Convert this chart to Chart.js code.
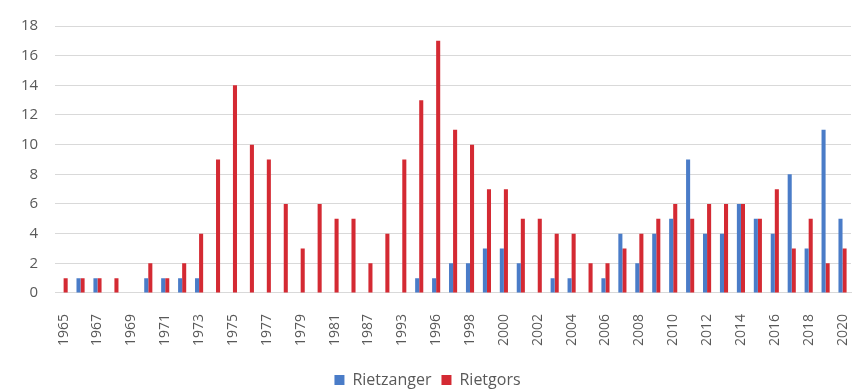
<!DOCTYPE html>
<html>
<head>
<meta charset="utf-8">
<script src="https://cdn.jsdelivr.net/npm/chart.js@4.4.1/dist/chart.umd.min.js"></script>
<style>
  html, body { margin: 0; padding: 0; background: #fff; }
  #wrap { width: 859px; height: 390px; }
</style>
</head>
<body>
<div id="wrap"><canvas id="bar-chart" width="859" height="390"></canvas></div>
<script>
// jaren (niet elk jaar aanwezig)
let years = [
  '1965', '1966', '1967', '1968', '1969', '1970', '1971', '1972', '1973', '1974',
  '1975', '1976', '1977', '1978', '1979', '1980', '1981', '1984', '1987', '1990',
  '1993', '1995', '1996', '1997', '1998', '1999', '2000', '2001', '2002', '2003',
  '2004', '2005', '2006', '2007', '2008', '2009', '2010', '2011', '2012', '2013',
  '2014', '2015', '2016', '2017', '2018', '2019', '2020'
];

let rietzanger = [
  0, 1, 1, 0, 0, 1, 1, 1, 1, 0,
  0, 0, 0, 0, 0, 0, 0, 0, 0, 0,
  0, 1, 1, 2, 2, 3, 3, 2, 0, 1,
  1, 0, 1, 4, 2, 4, 5, 9, 4, 4,
  6, 5, 4, 8, 3, 11, 5
];

let rietgors = [
  1, 1, 1, 1, 0, 2, 1, 2, 4, 9,
  14, 10, 9, 6, 3, 6, 5, 5, 2, 4,
  9, 13, 17, 11, 10, 7, 7, 5, 5, 4,
  4, 2, 2, 3, 4, 5, 6, 5, 6, 6,
  6, 5, 7, 3, 5, 2, 3
];

let yTicks = [0, 2, 4, 6, 8, 10, 12, 14, 16, 18];

let txtColor = '#595959';
let font = 'Open Sans';

new Chart(document.getElementById('bar-chart').getContext('2d'), {
  type: 'bar',
  data: {
    labels: years,
    datasets: [
      {
        label: 'Rietzanger',
        data: rietzanger,
        backgroundColor: '#4a7cc8',
        categoryPercentage: 0.48,
        barPercentage: 1.0
      },
      {
        label: 'Rietgors',
        data: rietgors,
        backgroundColor: '#d42a33',
        categoryPercentage: 0.48,
        barPercentage: 1.0
      }
    ]
  },
  options: {
    responsive: false,
    animation: false,
    layout: {
      padding: { top: 10, right: 8, bottom: -8, left: 4 }
    },
    plugins: {
      legend: {
        position: 'bottom',
        labels: {
          boxWidth: 10,
          boxHeight: 10,
          color: txtColor,
          padding: 10,
          font: { family: font, size: 16 }
        }
      },
      tooltip: { enabled: false }
    },
    scales: {
      x: {
        grid: { display: false },
        border: { color: '#d9d9d9' },
        // geen extra ruimte voor de gedraaide randlabels, wel wat lucht onder de jaartallen
        afterFit: function (axis) {
          axis.paddingLeft = 0;
          axis.paddingRight = 0;
          axis.height += 3;
        },
        ticks: {
          autoSkip: false,
          maxRotation: 90,
          minRotation: 90,
          color: txtColor,
          padding: 13,
          font: { family: font, size: 14 },
          callback: function (value, index) {
            return index % 2 === 0 ? this.getLabelForValue(value) : '';
          }
        }
      },
      y: {
        min: 0,
        max: 18,
        afterBuildTicks: function (axis) {
          axis.ticks = yTicks.map(function (v) { return { value: v }; });
        },
        grid: { color: '#d9d9d9', drawTicks: false },
        border: { display: false },
        ticks: {
          color: txtColor,
          padding: 17,
          font: { family: font, size: 15 }
        }
      }
    }
  }
});
</script>
</body>
</html>
